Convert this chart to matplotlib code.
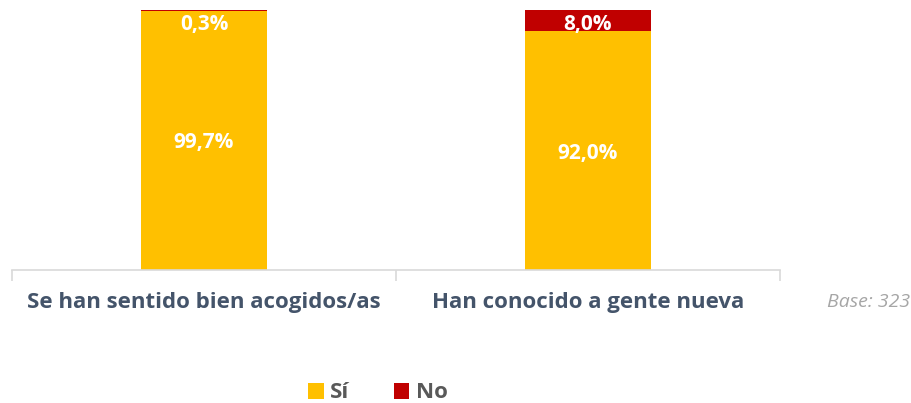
import numpy as np
import matplotlib.pyplot as plt

# Datos
categorias = ['Se han sentido bien acogidos/as', 'Han conocido a gente nueva']
si = [99.7, 92.0]
no = [0.3, 8.0]
etiquetas_si = ['99,7%', '92,0%']
etiquetas_no = ['0,3%', '8,0%']
base_texto = 'Base: 323'

amarillo = '#FFC000'
rojo = '#C00000'
gris_azul = '#44546A'

plt.rcParams['font.family'] = ['Open Sans', 'DejaVu Sans']

fig = plt.figure(figsize=(9.12, 4.03), dpi=100)
ax = fig.add_axes([12 / 912, 1 - 270 / 403, 768 / 912, 260 / 403])

x = np.arange(len(categorias))
b1 = ax.bar(x, si, width=0.33, color=amarillo, label='Sí')
b2 = ax.bar(x, no, width=0.33, bottom=si, color=rojo, label='No')

ax.set_xlim(-0.5, 1.5)
ax.set_ylim(0, 100)

# Etiquetas de datos
for i in range(len(categorias)):
    ax.text(x[i], si[i] / 2 - 1, etiquetas_si[i], ha='center', va='center',
            color='white', fontsize=15, fontweight='bold')
    ax.text(x[i], 94.6, etiquetas_no[i], ha='center', va='center',
            color='white', fontsize=15, fontweight='bold')

# Ejes
for s in ['top', 'right', 'left']:
    ax.spines[s].set_visible(False)
ax.spines['bottom'].set_color('#D9D9D9')
ax.spines['bottom'].set_linewidth(1.2)
ax.set_yticks([])
ax.set_xticks([-0.5, 0.5, 1.5])
ax.set_xticklabels([])
ax.tick_params(axis='x', length=8, color='#D9D9D9', width=1.2)
for i in range(len(categorias)):
    ax.text(x[i], -12.5, categorias[i], ha='center', va='center', color=gris_azul,
            fontsize=16, fontweight='bold')

fig.text(910 / 912, 1 - 302 / 403, base_texto, ha='right', va='center',
         color='#A6A6A6', fontsize=14, style='italic')

fig.legend(handles=[b1, b2], loc='center', bbox_to_anchor=(378 / 912, 1 - 393 / 403),
           ncol=2, frameon=False, handlelength=0.7, handleheight=0.7,
           handletextpad=0.3, columnspacing=2.0,
           prop={'size': 16, 'weight': 'bold'}, labelcolor='#595959')

plt.savefig('out.png', dpi=100)
